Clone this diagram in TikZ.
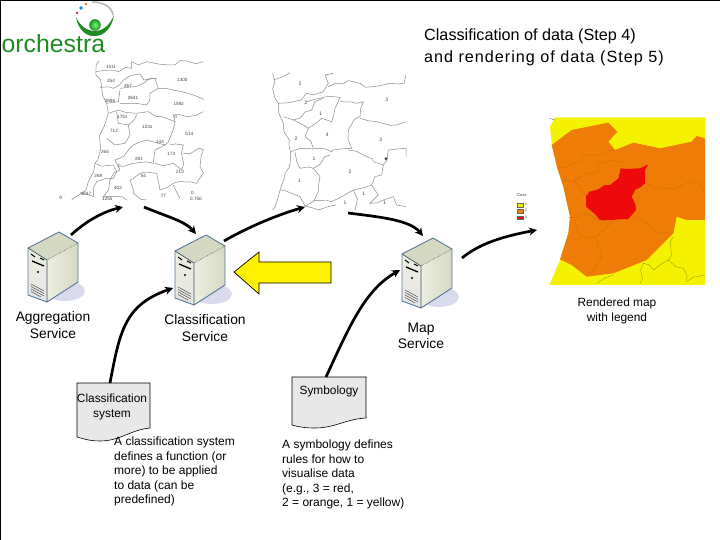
\documentclass[tikz,border=0pt]{standalone}
\usepackage{fontspec}
\setmainfont{Liberation Sans}
\usetikzlibrary{arrows.meta,shadings,decorations.pathmorphing}
\definecolor{logogreen}{HTML}{1E8C22}
\definecolor{mapline}{HTML}{8A8A8A}
\definecolor{srvedge}{HTML}{56789A}
\definecolor{docfill}{HTML}{E8E8E8}
\definecolor{mapyellow}{HTML}{F4F200}
\definecolor{maporange}{HTML}{F07C08}
\definecolor{mapred}{HTML}{EE0A0A}
\definecolor{srvlight}{HTML}{ECEEDF}
\definecolor{srvdark}{HTML}{D6D9C2}
\tikzset{
  x=1bp,y=-1bp,
  flow/.style={line width=2.7bp,black,-{Stealth[length=8bp,width=8bp]}},
  lbl/.style={font=\fontsize{13.8bp}{16.5bp}\selectfont,align=center,inner sep=0pt},
  doclbl/.style={font=\fontsize{12bp}{14.4bp}\selectfont,align=left,inner sep=0pt,anchor=north west},
  doclblc/.style={font=\fontsize{11.9bp}{15bp}\selectfont,align=center,inner sep=0pt},
  title/.style={font=\fontsize{16.2bp}{22bp}\selectfont,align=left,inner sep=0pt,anchor=north west},
  rough/.style={decorate,decoration={random steps,segment length=8bp,amplitude=2.6bp}},
  mapl/.style={draw=mapline,line width=0.5bp,rough},
  num/.style={font=\fontsize{4.6bp}{5bp}\selectfont,text=black!75,inner sep=0pt},
  docshape/.style={draw=black,line width=0.6bp,fill=docfill},
  inner/.style={draw=maporange!85!black,line width=0.3bp,rough},
  innery/.style={draw=black!40!mapyellow,line width=0.3bp,rough},
  server/.pic={
    \fill[blue!25!white!70!gray!45] (12,24) ellipse (20 and 10);
    \shade[left color=srvlight,right color=srvdark,draw=none]
      (-6,-7) -- (25,-24) -- (25,15) -- (-6,35) -- cycle;
    \shade[top color=srvlight,bottom color=gray!20!white]
      (-25,-19) -- (-6,-7) -- (-6,35) -- (-25,28) -- cycle;
    \fill[srvdark] (6,-35) -- (25,-24) -- (-6,-7) -- (-25,-19) -- cycle;
    \draw[srvedge,line width=0.9bp,line join=round]
      (6,-35) -- (25,-24) -- (25,15) -- (-6,35) -- (-25,28) -- (-25,-19) -- cycle;
    \draw[srvedge!70!black,line width=0.7bp] (-25,-19) -- (-6,-7) -- (-6,35);
    \draw[black,line width=0.4bp,densely dotted] (-6,-7) -- (25,-24);
    \draw[black,line width=1bp] (-22,-13) -- (-18,-10) (-13,-9) -- (-9,-7);
    \draw[black,line width=1.3bp] (-21,-6) -- (-9,-1);
    \fill[black] (-15,5) circle (1.2);
    \draw[black!70,line width=0.5bp] (-22,17) -- (-9,24) (-22,19.5) -- (-9,26.5)
      (-22,22) -- (-9,29) (-22,24.5) -- (-12,30);
  }
}
\begin{document}
\begin{tikzpicture}
\pgfmathsetseed{42}
\useasboundingbox (0,0) rectangle (720,540);
\fill[white] (0,0) rectangle (720,540);
\draw[black,line width=1.2bp] (0.5,540) -- (0.5,0.5) -- (720,0.5);

% logo
\node[inner sep=0pt,text=logogreen,font=\fontsize{24.8bp}{26bp}\selectfont,anchor=base west] (logotext) at (1.5,52.5) {orchestra};
\fill[logogreen] (76,17) .. controls (78,30) and (87,37) .. (95,36) .. controls (104,36) and (112,28) .. (114,15)
  .. controls (110,25) and (103,31) .. (95,31) .. controls (87,31) and (80,26) .. (76,17) -- cycle;
\draw[gray!55,line width=1.6bp] (113,15) .. controls (112,8) and (105,2) .. (92,2);
\shade[inner color=green!55!white,outer color=logogreen] (95,25) circle (5.8);
\fill[cyan!70!blue] (81,8) circle (1.9);
\fill[orange!80!red] (86,4) circle (1.3);
\fill[red!60!gray] (77,13) circle (1.3);

% map 1 (numbers)
\begin{scope}[shift={(0,0)},scale=1/3]
\draw[mapl] (298,182) -- (288,195) -- (288,225) -- (302,240) -- (305,262) -- (320,310) -- (325,340) -- (312,380) -- (300,425) -- (285,490) -- (265,545) -- (245,580) -- (215,600);
\draw[mapl] (288,215) -- (335,210) -- (395,205) -- (395,185) -- (415,195) -- (440,185) -- (475,192) -- (505,195) -- (525,195) -- (560,183) -- (610,185);
\draw[mapl] (300,262) -- (340,265) -- (370,240) -- (420,222) -- (432,240) -- (465,235) -- (475,265) -- (530,272) -- (580,285) -- (612,298);
\draw[mapl] (360,265) -- (430,250) -- (470,235);
\draw[mapl] (320,310) -- (355,305) -- (360,270);
\draw[mapl] (360,310) -- (440,315) -- (450,280) -- (475,265);
\draw[mapl] (325,340) -- (355,330) -- (410,340) -- (445,335) -- (485,350) -- (525,365) -- (520,345) -- (560,350) -- (610,335);
\draw[mapl] (350,335) -- (355,370) -- (385,375) -- (410,345);
\draw[mapl] (385,375) -- (390,405) -- (375,430) -- (345,435) -- (320,415);
\draw[mapl] (525,365) -- (515,400) -- (495,435) -- (440,420) -- (385,450) -- (345,480) -- (360,510) -- (330,540) -- (310,590) -- (345,590) -- (380,600);
\draw[mapl] (495,435) -- (465,450) -- (460,490) -- (400,490) -- (365,500);
\draw[mapl] (465,490) -- (520,490) -- (545,510) -- (550,435) -- (510,435);
\draw[mapl] (550,460) -- (610,450) -- (600,500) -- (610,520) -- (590,550) -- (520,550) -- (480,570) -- (470,520) -- (420,520) -- (390,540) -- (400,580) -- (440,600);
\draw[mapl] (285,490) -- (340,495) -- (350,515) -- (340,535) -- (290,545) -- (280,590) -- (240,578);
\draw[mapl] (520,555) -- (540,595);
\node[num] (n1) at (333,201) {1511};
\node[num] (n2) at (333,243) {254};
\node[num] (n3) at (384,258) {267};
\node[num] (n4) at (399,295) {2641};
\node[num] (n5) at (547,240) {1300};
\node[num] (n6) at (330,303) {2696};
\node[num] (n7) at (536,312) {1592};
\node[num] (n8) at (367,352) {1751};
\node[num] (n9) at (442,382) {1231};
\node[num] (n10) at (342,394) {712};
\node[num] (n11) at (568,401) {514};
\node[num] (n12) at (480,426) {144};
\node[num] (n13) at (315,456) {264};
\node[num] (n14) at (514,461) {173};
\node[num] (n15) at (417,477) {281};
\node[num] (n16) at (540,515) {213};
\node[num] (n17) at (295,527) {269};
\node[num] (n18) at (430,529) {54};
\node[num] (n19) at (354,565) {402};
\node[num] (n20) at (577,578) {0};
\node[num] (n21) at (182,594) {9};
\node[num] (n22) at (258,581) {4247};
\node[num] (n23) at (322,597) {1255};
\node[num] (n24) at (490,588) {77};
\node[num] (n25) at (358,498) {0};
\node[num] (n26) at (527,352) {0};
\node[num] (n27) at (588,597) {0.750};
\end{scope}
\coordinate (map1in) at (123,207);
\coordinate (map1out) at (144,207);

% map 2 (classes)
\begin{scope}[shift={(250,60)},scale=1/3]
\draw[mapl] (68,40) -- (68,85) -- (85,130) -- (100,190) -- (118,240) -- (122,280) -- (105,340) -- (90,390) -- (68,450);
\draw[mapl] (70,60) -- (100,50) -- (120,38);
\draw[mapl] (85,130) -- (130,125) -- (170,100) -- (220,95) -- (235,70) -- (225,45) -- (250,40);
\draw[mapl] (235,80) -- (295,62) -- (330,70) -- (370,80) -- (420,70) -- (462,70) -- (468,45);
\draw[mapl] (170,125) -- (220,112) -- (270,112) -- (255,145) -- (245,185) -- (215,175) -- (175,205) -- (130,180) -- (100,170);
\draw[mapl] (130,180) -- (185,150) -- (195,125) -- (220,115);
\draw[mapl] (270,125) -- (320,130) -- (340,125) -- (330,170) -- (295,210) -- (305,265) -- (245,275) -- (190,265) -- (165,230) -- (175,205);
\draw[mapl] (330,175) -- (380,185) -- (440,195) -- (468,185);
\draw[mapl] (122,275) -- (150,265) -- (190,268);
\draw[mapl] (135,275) -- (150,325) -- (190,325) -- (240,285);
\draw[mapl] (295,270) -- (340,285) -- (370,305) -- (400,315) -- (415,270) -- (468,265) -- (468,290);
\draw[mapl] (190,325) -- (210,350) -- (205,395) -- (190,425) -- (165,438) -- (150,410) -- (125,400) -- (90,390);
\draw[mapl] (400,315) -- (395,345) -- (375,350) -- (365,375) -- (310,390) -- (275,410) -- (245,425) -- (190,422);
\draw[mapl] (165,438) -- (205,450) -- (240,440) -- (250,425);
\draw[mapl] (310,390) -- (320,430) -- (315,450);
\draw[mapl] (365,375) -- (385,405) -- (360,430) -- (400,420) -- (430,410) -- (440,435) -- (468,440);
\fill[black!70] (408,296) circle (5);
\foreach \px/\py/\t/\n in {150/72/2/a,168/128/2/b,410/120/3/c,212/162/1/d,232/225/4/e,138/235/2/f,392/240/3/g,192/295/1/h,300/336/2/i,148/362/1/j,341/400/1/k,404/428/1/l,285/428/1/m}
  \node[num,font=\fontsize{5bp}{5bp}\selectfont] (m\n) at (\px,\py) {\t};
\end{scope}
\coordinate (map2in) at (305,207);
\coordinate (map2out) at (348,213);

% map 3 (rendered)
\begin{scope}[shift={(500,100)},scale=1/3]
\fill[mapyellow] (165,52) -- (615,52) -- (615,555) -- (148,555) -- (180,480) -- (205,400) -- (210,350) -- (190,260) -- (172,205) -- (155,130) -- (150,80) -- cycle;
\fill[maporange] (155,135) -- (215,90) -- (325,68) -- (352,95) -- (325,125) -- (345,150) -- (400,128) -- (480,145) -- (575,125) -- (590,108) -- (615,115) -- (615,360) -- (560,360) -- (530,350) -- (520,400) -- (490,430) -- (440,480) -- (340,520) -- (260,530) -- (215,495) -- (180,478) -- (205,400) -- (210,350) -- (190,260) -- (172,205) -- cycle;
\draw[inner] (172,200) -- (235,190) -- (250,165) -- (350,150);
\draw[inner] (185,240) -- (235,235) -- (295,215) -- (290,190) -- (375,180);
\draw[inner] (215,240) -- (265,290);
\draw[inner] (440,250) -- (500,265) -- (600,250) -- (612,280);
\draw[inner] (205,352) -- (270,345) -- (300,360);
\draw[inner] (225,355) -- (240,405) -- (290,410) -- (310,390) -- (345,360);
\draw[inner] (395,350) -- (445,375) -- (480,400) -- (510,395);
\draw[inner] (290,410) -- (305,470) -- (260,525);
\draw[innery] (520,410) -- (505,480) -- (460,510) -- (430,490) -- (420,550);
\draw[innery] (505,480) -- (550,505) -- (560,545) -- (615,525);
\draw[innery] (290,550) -- (340,525);
\fill[mapred,rough] (258,320) -- (268,275) -- (330,255) -- (355,235) -- (362,205) -- (420,205) -- (445,193) -- (435,250) -- (405,270) -- (395,290) -- (408,330) -- (385,357) -- (300,360) -- (285,342) -- cycle;
\draw[black!60,line width=0.4bp] (148,55) -- (165,60);
\node[num,font=\fontsize{4bp}{4bp}\selectfont] (legtitle) at (65,285) {Class};
\draw[black!60,line width=0.3bp,fill=mapyellow] (50,308) rectangle (68,320);
\draw[black!60,line width=0.3bp,fill=maporange] (50,327) rectangle (68,338);
\draw[black!60,line width=0.3bp,fill=mapred] (50,347) rectangle (68,358);
\node[num,font=\fontsize{3.5bp}{4bp}\selectfont] (leg1) at (78,314) {1};
\node[num,font=\fontsize{3.5bp}{4bp}\selectfont] (leg2) at (78,332) {2};
\node[num,font=\fontsize{3.5bp}{4bp}\selectfont] (leg3) at (78,352) {3};
\end{scope}
\coordinate (map3in) at (537,230);

% servers
\pic at (53,267) {server};
\pic at (200,270) {server};
\pic at (427,273) {server};
\node[minimum width=50bp,minimum height=70bp,inner sep=0pt] (aggsrv) at (53,267) {};
\node[minimum width=50bp,minimum height=70bp,inner sep=0pt] (clssrv) at (200,270) {};
\node[minimum width=50bp,minimum height=70bp,inner sep=0pt] (mapsrv) at (427,273) {};
\coordinate (aggout) at (71,235);
\coordinate (clsin) at (196,234);
\coordinate (clsout) at (224,241);
\coordinate (clsin2) at (173,288);
\coordinate (mapin) at (423,236);
\coordinate (mapin2) at (400,270);
\coordinate (mapout) at (462,258);

% yellow arrow
\draw[black,line width=0.7bp,fill=yellow] (234,272) -- (259,252) -- (259,262) -- (331,262) -- (331,283) -- (259,283) -- (259,294) -- cycle;

% documents
\draw[docshape] (77,383) -- (150,383) -- (150,428) .. controls (130,430) and (120,441) .. (100,441) .. controls (90,441) and (84,439) .. (77,437) -- cycle;
\draw[docshape] (292,377) -- (366,377) -- (366,418) .. controls (346,419) and (335,428) .. (315,428) .. controls (305,428) and (299,427) .. (292,425) -- cycle;
\coordinate (docAtop) at (110,383);
\coordinate (docBtop) at (326,377);

% flows
\draw[flow] (aggout) .. controls (85,222) and (102,212) .. (map1in);
\draw[flow] (map1out) .. controls (165,216) and (185,221) .. (clsin);
\draw[flow] (clsout) .. controls (250,226) and (280,214) .. (map2in);
\draw[flow] (map2out) .. controls (380,217) and (410,220) .. (mapin);
\draw[flow] (mapout) .. controls (480,243) and (505,236) .. (map3in);
\draw[flow] (docAtop) .. controls (120,330) and (125,305) .. (clsin2);
\draw[flow] (docBtop) .. controls (350,325) and (365,290) .. (mapin2);

% labels
\node[title] (titletext) at (424,29) {Classification of data (Step 4)\\{\addfontfeature{LetterSpace=6}and rendering of data (Step 5)}};
\node[lbl] (agglbl) at (53,325) {Aggregation\\Service};
\node[lbl] (clslbl) at (205,328) {Classification\\Service};
\node[lbl] (maplbl) at (421,336) {Map\\Service};
\node[doclblc] (rendlbl) at (617,311) {Rendered map\\with legend};
\node[doclblc] (clsdoc) at (112,407) {Classification\\system};
\node[doclblc] (symdoc) at (329,391) {Symbology};
\node[doclbl] (clsdesc) at (114,437) {A classification system\\defines a function (or\\more) to be applied\\to data (can be\\predefined)};
\node[doclbl] (symdesc) at (282,440) {A symbology defines\\rules for how to\\visualise data\\(e.g., 3 = red,\\2 = orange, 1 = yellow)};
\end{tikzpicture}
\end{document}
